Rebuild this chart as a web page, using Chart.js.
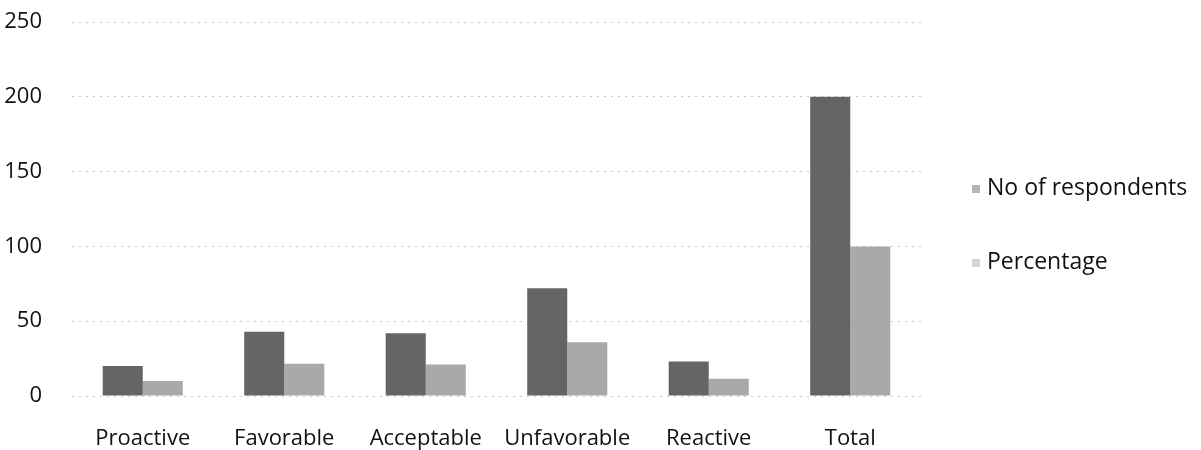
<!DOCTYPE html>
<html>
<head>
<meta charset="utf-8">
<script src="https://cdn.jsdelivr.net/npm/chart.js@4"></script>
<style>
  body { margin: 0; background: #fff; }
  #wrap { position: relative; width: 1201px; height: 450px; }
  #legend { position: absolute; left: 972px; top: 168px; font-family: "Open Sans", sans-serif; font-size: 23px; color: #111; }
  #legend div { height: 36px; line-height: 36px; margin-bottom: 38px; white-space: nowrap; }
  #legend span { display: inline-block; width: 8px; height: 8px; margin-right: 7px; vertical-align: middle; }
</style>
</head>
<body>
<div id="wrap">
  <canvas id="chart" width="1201" height="450"></canvas>
  <div id="legend"></div>
</div>
<script>
// categories and series
const categories = ['Proactive', 'Favorable', 'Acceptable', 'Unfavorable', 'Reactive', 'Total'];
const respondents = [20, 43, 42, 72, 23, 200];
const percentage = [10, 21.5, 21, 36, 11.5, 100];
const seriesNames = ['No of respondents', 'Percentage'];
const seriesColors = ['#656565', '#a9a9a9'];
const legendColors = ['#b5b5b5', '#d5d5d5'];
const yTicks = [0, 50, 100, 150, 200, 250];

const ctx = document.getElementById('chart').getContext('2d');
const chart = new Chart(ctx, {
    type: 'bar',
    data: {
        labels: categories,
        datasets: [
            { label: seriesNames[0], data: respondents, backgroundColor: seriesColors[0] },
            { label: seriesNames[1], data: percentage, backgroundColor: seriesColors[1] }
        ]
    },
    options: {
        responsive: false,
        animation: false,
        layout: { padding: { left: 0, right: 280, top: 22, bottom: 0 } },
        datasets: { bar: { categoryPercentage: 0.566, barPercentage: 1.0 } },
        plugins: { legend: { display: false }, tooltip: { enabled: false } },
        scales: {
            x: {
                grid: { display: false, drawTicks: false },
                border: { display: false },
                ticks: { color: '#111', padding: 30, maxRotation: 0, font: { family: 'Open Sans', size: 22 } },
                afterFit: axis => { axis.height = 54; axis.paddingLeft = 0; axis.paddingRight = 0; }
            },
            y: {
                min: yTicks[0],
                max: yTicks[yTicks.length - 1],
                afterBuildTicks: axis => { axis.ticks = yTicks.map(v => ({ value: v })); },
                grid: { color: '#c8c8c8', lineWidth: 1, drawTicks: false },
                border: { display: false, dash: [2, 5] },
                ticks: { color: '#111', padding: 30, font: { family: 'Open Sans', size: 22 } },
                afterFit: axis => { axis.width = 72; axis.paddingTop = 0; axis.paddingBottom = 0; }
            }
        }
    }
});

// legend
const legend = document.getElementById('legend');
seriesNames.forEach((name, i) => {
    const div = document.createElement('div');
    const box = document.createElement('span');
    box.style.background = legendColors[i];
    div.appendChild(box);
    div.appendChild(document.createTextNode(name));
    legend.appendChild(div);
});
</script>
</body>
</html>
